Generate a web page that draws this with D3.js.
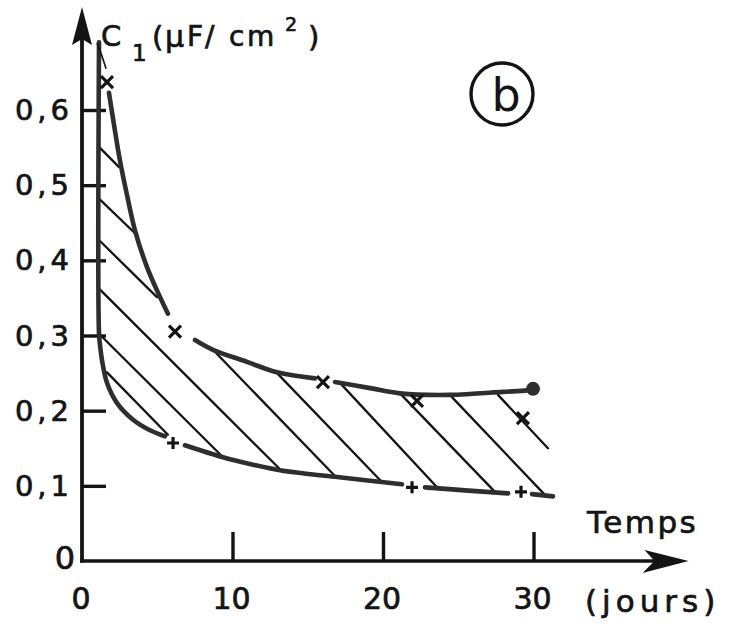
<!DOCTYPE html>
<html><head><meta charset="utf-8">
<script src="https://cdn.jsdelivr.net/npm/d3@7"></script>
<style>body{margin:0;background:#fff}svg{display:block}</style>
</head><body>
<script>
// ---- data (days, C1 in µF/cm²) ----
const yTickValues = [0.1, 0.2, 0.3, 0.4, 0.5, 0.6];
const yTickLabels = ["0,1", "0,2", "0,3", "0,4", "0,5", "0,6"];
const xTickValues = [10, 20, 30];
const xTickLabels = ["0", "10", "20", "30"];
const xLabelValues = [0, 10, 20, 30];

const upperMarkDays = [1.66, 6.18, 16.01, 22.26, 29.30];
const upperMarkC    = [0.637, 0.305, 0.238, 0.213, 0.190];
const lowerMarkDays = [6.05, 21.93, 29.17];
const lowerMarkC    = [0.157, 0.098, 0.092];

const upperThin = [[1.00, 0.689], [1.25, 0.676], [1.60, 0.655]];
const upperSeg1 = [[1.79, 0.623], [2.13, 0.580], [2.52, 0.533], [2.99, 0.487], [3.52, 0.440], [4.32, 0.391], [5.05, 0.357], [5.71, 0.329]];
const upperSeg2 = [[7.51, 0.294], [8.70, 0.281], [10.96, 0.265], [12.96, 0.251], [15.48, 0.243]];
const upperSeg3 = [[16.81, 0.238], [19.14, 0.230], [21.13, 0.223], [24.45, 0.221], [27.97, 0.225], [29.57, 0.227], [29.97, 0.229]];
const endDot = [29.97, 0.229];

const lowerSeg1 = [[1.13, 0.690], [1.13, 0.303], [1.20, 0.287], [1.33, 0.267], [1.66, 0.237], [2.33, 0.210], [3.39, 0.188], [4.52, 0.174], [5.51, 0.166]];
const lowerSeg2 = [[6.84, 0.154], [9.37, 0.138], [11.16, 0.129], [13.36, 0.120], [16.81, 0.112], [21.26, 0.102]];
const lowerSeg3 = [[22.79, 0.098], [25.45, 0.094], [28.31, 0.090]];
const lowerSeg4 = [[29.90, 0.089], [31.30, 0.086]];

// hatch segments [day0, C0, day1, C1]
const hatchLines = [
  [1.13, 0.551, 2.46, 0.524],
  [1.13, 0.482, 3.52, 0.436],
  [1.13, 0.427, 4.98, 0.351],
  [1.20, 0.361, 13.36, 0.118],
  [1.20, 0.301, 9.37, 0.138],
  [1.66, 0.251, 5.71, 0.168],
  [8.70, 0.281, 16.81, 0.113],
  [12.96, 0.250, 19.93, 0.105],
  [17.14, 0.237, 23.59, 0.098],
  [21.13, 0.223, 27.44, 0.092],
  [24.58, 0.218, 30.76, 0.088],
  [27.64, 0.221, 30.96, 0.150]
];
const xAxisEnd = 40.3;
const yAxisEnd = 0.737;

// ---- drawing ----
const W = 741, H = 624;
const svg = d3.select("body").append("svg").attr("width", W).attr("height", H);
const x = d3.scaleLinear().domain([0, 30]).range([82, 533.5]);
const y = d3.scaleLinear().domain([0, 0.6]).range([561, 110]);
const ink = "#141414", curveInk = "#2e2e2e";
const font = "'DejaVu Sans', sans-serif";

// axes ticks
const yAxis = d3.axisLeft(y).tickValues(yTickValues).tickSizeInner(-24).tickSizeOuter(0).tickFormat("");
const gy = svg.append("g").attr("transform", `translate(${x(0)},0)`).call(yAxis);
gy.select(".domain").remove();
gy.selectAll("line").attr("stroke", ink).attr("stroke-width", 3.4);

const xAxis = d3.axisBottom(x).tickValues(xTickValues).tickSizeInner(-29).tickSizeOuter(0).tickFormat("");
const gx = svg.append("g").attr("transform", `translate(0,${y(0)})`).call(xAxis);
gx.select(".domain").remove();
gx.selectAll("line").attr("stroke", ink).attr("stroke-width", 3.4);

// axis lines
svg.append("line").attr("x1", x(0)).attr("y1", y(0) + 1.5).attr("x2", x(0)).attr("y2", y(yAxisEnd) + 30)
  .attr("stroke", ink).attr("stroke-width", 3.8);
svg.append("line").attr("x1", x(0) - 2).attr("y1", y(0)).attr("x2", x(xAxisEnd) - 8).attr("y2", y(0))
  .attr("stroke", ink).attr("stroke-width", 3.6);
// arrowheads
const ty = y(yAxisEnd), tx = x(0);
svg.append("path").attr("d", `M${tx},${ty} L${tx - 10},${ty + 38} L${tx},${ty + 32} L${tx + 10},${ty + 38} Z`).attr("fill", ink);
const ax = x(xAxisEnd), ay = y(0);
svg.append("path").attr("d", `M${ax},${ay} L${ax - 44},${ay - 11} L${ax - 34},${ay} L${ax - 46},${ay + 12} Z`).attr("fill", ink);

// tick labels
const txt = sel => sel.attr("font-family", font).attr("fill", ink).attr("stroke", ink).attr("stroke-width", 0.7);
svg.selectAll(".ylab").data(yTickValues).join("text")
  .attr("x", 73).attr("y", d => y(d) + 10).attr("text-anchor", "end")
  .attr("font-size", 29).attr("letter-spacing", 4).call(txt)
  .text((d, i) => yTickLabels[i]);
svg.append("text").attr("x", 65).attr("y", y(0) + 8).attr("text-anchor", "middle")
  .attr("font-size", 32).call(txt).text("0");
svg.selectAll(".xlab").data(xLabelValues).join("text")
  .attr("x", d => x(d) - 1).attr("y", 609).attr("text-anchor", "middle")
  .attr("font-size", 30).call(txt)
  .text((d, i) => xTickLabels[i]);

// axis titles
const t = svg.append("g").attr("font-family", font).attr("fill", ink).attr("stroke", ink).attr("stroke-width", 0.7);
t.append("text").attr("x", 101).attr("y", 46).attr("font-size", 29).text("C");
t.append("text").attr("x", 132).attr("y", 61).attr("font-size", 23).text("1");
t.append("text").attr("x", 152).attr("y", 47).attr("font-size", 29).text("(");
t.append("text").attr("x", 165).attr("y", 47).attr("font-size", 30).text("μ");
t.append("text").attr("x", 187).attr("y", 46).attr("font-size", 28).text("F");
t.append("text").attr("x", 205).attr("y", 46).attr("font-size", 28).text("/");
t.append("text").attr("x", 229).attr("y", 46).attr("font-size", 28).text("c");
t.append("text").attr("x", 247).attr("y", 46).attr("font-size", 28).text("m");
t.append("text").attr("x", 285).attr("y", 31).attr("font-size", 19).text("2");
t.append("text").attr("x", 308).attr("y", 47).attr("font-size", 29).text(")");
t.append("text").attr("x", 587).attr("y", 533).attr("font-size", 31).attr("letter-spacing", 2.5).text("Temps");
t.append("text").attr("x", 585).attr("y", 612).attr("font-size", 31).attr("letter-spacing", 5).text("(jours)");

// circled b
svg.append("circle").attr("cx", 502).attr("cy", 94).attr("r", 31).attr("fill", "none").attr("stroke", ink).attr("stroke-width", 3.4);
svg.append("text").attr("x", 506).attr("y", 111).attr("text-anchor", "middle").attr("font-family", font)
  .attr("font-size", 46).attr("fill", ink).text("b");

// hatching
svg.append("g").selectAll("line").data(hatchLines).join("line")
  .attr("x1", d => x(d[0])).attr("y1", d => y(d[1])).attr("x2", d => x(d[2])).attr("y2", d => y(d[3]))
  .attr("stroke", ink).attr("stroke-width", 2.3).attr("stroke-linecap", "round");

// curves
const line = d3.line().x(d => x(d[0])).y(d => y(d[1])).curve(d3.curveCatmullRom.alpha(0.5));
[upperSeg1, upperSeg2, upperSeg3, lowerSeg1, lowerSeg2, lowerSeg3, lowerSeg4].forEach(seg => {
  svg.append("path").attr("d", line(seg)).attr("fill", "none").attr("stroke", curveInk)
    .attr("stroke-width", 4.6).attr("stroke-linecap", "round");
});
svg.append("path").attr("d", line(upperThin)).attr("fill", "none").attr("stroke", ink).attr("stroke-width", 1.6);
svg.append("circle").attr("cx", x(endDot[0])).attr("cy", y(endDot[1])).attr("r", 7).attr("fill", curveInk);

// markers
const um = upperMarkDays.map((d, i) => [d, upperMarkC[i]]);
const lm = lowerMarkDays.map((d, i) => [d, lowerMarkC[i]]);
const s = 6;
svg.append("g").selectAll("path").data(um).join("path")
  .attr("d", d => { const cx = x(d[0]), cy = y(d[1]); return `M${cx - s},${cy - s}L${cx + s},${cy + s}M${cx + s},${cy - s}L${cx - s},${cy + s}`; })
  .attr("stroke", ink).attr("stroke-width", 3.2).attr("fill", "none");
svg.append("g").selectAll("path").data(lm).join("path")
  .attr("d", d => { const cx = x(d[0]), cy = y(d[1]); return `M${cx - s},${cy}L${cx + s},${cy}M${cx},${cy - s}L${cx},${cy + s}`; })
  .attr("stroke", ink).attr("stroke-width", 3.2).attr("fill", "none");
</script>
</body></html>
